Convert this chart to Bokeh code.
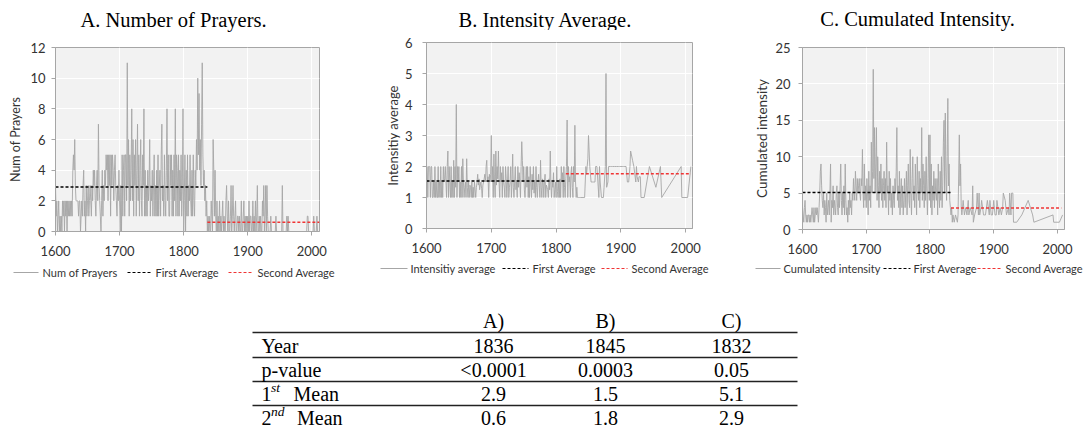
from bokeh.plotting import figure
from bokeh.layouts import column, row
from bokeh.models import Range1d, FixedTicker
from bokeh.embed import file_html
from bokeh.resources import INLINE
from bokeh.core.properties import value

SANS = "Lato"
SERIF = "Liberation Serif"

# ------------------------------------------------------------------ data
# A. number of prayers per year, 1600..2010
years_all = list(range(1600, 2011))
prayers = [
    3, 1, 2, 0, 1, 2, 0, 1, 0, 1,      # 1600s
    0, 2, 1, 2, 0, 2, 1, 2, 0, 2,      # 1610s
    1, 2, 1, 2, 1, 2, 1, 4, 5, 4,      # 1620s
    6, 3, 2, 2, 2, 2, 1, 2, 2, 0,      # 1630s
    1, 2, 1, 3, 4, 1, 2, 0, 3, 1,      # 1640s
    2, 3, 1, 2, 3, 2, 1, 3, 2, 4,      # 1650s
    3, 4, 2, 1, 3, 4, 2, 7, 3, 2,      # 1660s
    1, 0, 2, 4, 1, 3, 2, 4, 3, 5,      # 1670s
    4, 5, 2, 5, 3, 5, 1, 5, 3, 5,      # 1680s
    4, 2, 4, 5, 3, 2, 1, 3, 2, 4,      # 1690s
    2, 0, 3, 0, 5, 1, 4, 5, 1, 5,      # 1700s
    5, 2, 11, 3, 6, 1, 5, 2, 4, 8,     # 1710s
    2, 6, 1, 5, 3, 6, 1, 4, 7, 2,      # 1720s
    5, 1, 4, 6, 2, 1, 5, 3, 8, 1,      # 1730s
    4, 1, 3, 1, 4, 2, 3, 6, 1, 3,      # 1740s
    2, 4, 1, 3, 5, 1, 3, 1, 4, 1,      # 1750s
    5, 1, 3, 4, 1, 5, 7, 2, 3, 1,      # 1760s
    5, 2, 1, 4, 8, 2, 5, 1, 1, 5,      # 1770s
    3, 5, 1, 4, 1, 5, 2, 8, 1, 5,      # 1780s
    4, 1, 5, 1, 4, 2, 5, 1, 3, 8,      # 1790s
    0, 2, 5, 0, 4, 1, 5, 1, 3, 2,      # 1800s
    5, 2, 1, 4, 1, 5, 2, 1, 4, 3,      # 1810s
    6, 4, 10, 5, 9, 4, 6, 3, 7, 11,    # 1820s
    5, 3, 4, 2, 3, 1, 2, 0, 1, 0,      # 1830s
    1, 0, 0, 2, 1, 0, 6, 4, 1, 4,      # 1840s
    1, 0, 2, 0, 1, 0, 2, 0, 1, 0,      # 1850s
    1, 2, 0, 1, 0, 0, 2, 3, 1, 0,      # 1860s
    2, 0, 0, 1, 3, 0, 1, 3, 1, 0,      # 1870s
    1, 2, 0, 0, 1, 1, 0, 1, 0, 0,      # 1880s
    2, 0, 0, 1, 2, 0, 1, 0, 1, 0,      # 1890s
    1, 0, 2, 0, 1, 1, 0, 0, 2, 0,      # 1900s
    1, 0, 2, 0, 1, 3, 0, 0, 1, 0,      # 1910s
    1, 0, 0, 2, 1, 3, 0, 1, 3, 0,      # 1920s
    3, 1, 0, 0, 0, 0, 1, 0, 0, 0,      # 1930s
    0, 0, 0, 0, 1, 0, 0, 0, 0, 0,      # 1940s
    0, 0, 0, 0, 3, 0, 0, 0, 0, 0,      # 1950s
    0, 1, 0, 1, 0, 0, 0, 0, 0, 0,      # 1960s
    0, 0, 0, 0, 0, 0, 0, 0, 0, 0,      # 1970s
    0, 0, 0, 0, 0, 0, 0, 0, 0, 0,      # 1980s
    0, 0, 0, 1, 1, 0, 0, 0, 0, 0,      # 1990s
    0, 0, 0, 1, 0, 0, 0, 0, 1, 0,      # 2000s
    0,                                 # 2010
]

# B and C: only the years that have prayers
years_early = list(range(1600, 1836))
years_late = [1836, 1838, 1840, 1843, 1844, 1846, 1847, 1848, 1849, 1850,
              1852, 1854, 1856, 1858, 1860, 1861, 1863, 1866, 1867, 1868,
              1870, 1873, 1874, 1876, 1877, 1878, 1880, 1881, 1884, 1885,
              1887, 1890, 1893, 1894, 1896, 1898, 1900, 1902, 1904, 1905,
              1908, 1910, 1912, 1914, 1915, 1918, 1920, 1923, 1924, 1925,
              1927, 1928, 1930, 1931, 1936, 1944, 1954, 1961, 1963, 1993,
              1994, 2003, 2008]
years_bc = years_early + years_late

intensity_avg = [
    2, 2, 1, 2, 2, 2, 1, 2, 2, 1,                          # 1600s
    1, 1.5, 1, 2, 1, 1.5, 1, 1, 2, 1,                      # 1610s
    1.5, 1, 2, 1, 1.5, 1, 2, 1.5, 1.6, 2,                  # 1620s
    1.5, 1, 2, 2.5, 1, 2, 1.5, 1, 2, 1,                    # 1630s
    1.5, 1, 2.2, 1, 2, 1.33, 4, 1, 2, 1.5,                 # 1640s
    2, 1, 1.5, 1, 2, 1, 2.25, 1.5, 1, 1.33,                # 1650s
    1.5, 1, 2.25, 1.33, 1, 1.5, 1, 1.4, 1.33, 1,           # 1660s
    1.5, 1, 1.33, 1, 1.5, 1.25, 1, 1.33, 1.5, 1.75,        # 1670s
    1.4, 1.6, 1.25, 1.4, 1.5, 1.3, 1, 1.4, 1.5, 1.6,       # 1680s
    1.75, 1.5, 2, 2.2, 1.5, 1.67, 1, 1.75, 1.5, 1.75,      # 1690s
    3, 1.5, 2, 1, 2.4, 1.5, 1, 2.5, 1.4, 2,                # 1700s
    1.6, 2.5, 1.5, 1, 2, 1.5, 1.8, 1, 2, 1.5,              # 1710s
    1.33, 1, 2, 1.6, 1, 1.5, 2, 1, 1.33, 1.5,              # 1720s
    2, 1, 1.5, 2.4, 1.33, 1, 1.5, 2, 1.25, 1.5,            # 1730s
    1, 2, 1.33, 1.8, 1.5, 1, 2, 2.8, 2.2, 1.5,             # 1740s
    2, 1.25, 1, 1.5, 2, 1.33, 2, 1, 1.67, 1,               # 1750s
    2, 1.5, 1, 1.75, 1.25, 2, 1.14, 1.5, 1, 2,             # 1760s
    1.33, 1, 1.5, 1.75, 1.38, 1, 2.2, 1.33, 1, 1.6,        # 1770s
    1.5, 1, 1.5, 1.75, 1, 1.4, 1.33, 1.25, 1, 1.6,         # 1780s
    1.25, 2.5, 1.4, 1, 1.5, 1.33, 1.8, 1, 1.25, 1.5,       # 1790s
    1, 2, 1.2, 1, 1.5, 1, 1.6, 1, 2, 1.5,                  # 1800s
    1.8, 1, 2, 1.33, 1, 1.6, 2, 3.5, 1, 2,                 # 1810s
    1.5, 1.67, 1, 1.8, 2, 1.33, 1, 2, 1.5, 3.33,           # 1820s
    1.5, 1, 1.33, 1, 1, 1,                                 # 1830-1835
    # years_late
    1, 1, 1, 1, 1, 2, 1.75, 2, 2.25, 3,
    2, 1.5, 1.5, 1.5, 1.5, 2, 2, 1, 2, 1.5,
    1, 1, 1.33, 2, 5, 1.33, 1.5, 2, 2, 2,
    2, 2, 2, 2, 2, 2, 2, 2, 2, 2,
    2, 1.5, 1.5, 2, 2.5, 2.2, 2, 1.5, 2, 1.67,
    1.5, 1.67, 1.67, 1, 1, 2, 1.33, 2, 1, 2,
    1, 1, 2,
]

cumulated = [
    3, 2, 1, 3, 4, 2, 1, 2, 1, 2,          # 1600s
    2, 1, 2, 1, 2, 3, 2, 1, 3, 1,          # 1610s
    2, 3, 2, 3, 2, 1, 3, 5, 8, 9,          # 1620s
    6, 4, 3, 5, 2, 4, 3, 1, 5, 2,          # 1630s
    3, 4, 2, 5, 9, 1, 4, 3, 6, 2,          # 1640s
    4, 3, 2, 5, 6, 3, 2, 5, 3, 6,          # 1650s
    9, 4, 2, 5, 3, 6, 2, 9, 4, 2,          # 1660s
    3, 1, 4, 2, 5, 3, 4, 2, 5, 4,          # 1670s
    7, 5, 4, 8, 6, 4, 7, 5, 6, 7,          # 1680s
    5, 4, 7, 6, 11, 5, 3, 9, 4, 6,         # 1690s
    3, 7, 5, 2, 8, 4, 6, 3, 12, 5,         # 1700s
    8, 22, 7, 14, 5, 9, 14, 4, 10, 6,      # 1710s
    3, 8, 5, 9, 4, 7, 3, 6, 8, 4,          # 1720s
    7, 3, 12, 5, 6, 2, 8, 4, 7, 3,         # 1730s
    5, 2, 6, 4, 3, 7, 5, 8, 14, 4,         # 1740s
    6, 3, 8, 2, 5, 7, 3, 6, 2, 4,          # 1750s
    7, 3, 5, 8, 2, 6, 9, 4, 3, 11,         # 1760s
    5, 2, 7, 10, 4, 6, 3, 9, 5, 2,         # 1770s
    10, 6, 4, 8, 3, 7, 5, 14, 4, 9,        # 1780s
    6, 3, 8, 4, 10, 5, 2, 7, 13, 4,        # 1790s
    13, 3, 9, 2, 6, 4, 8, 3, 7, 5,         # 1800s
    4, 7, 2, 9, 5, 3, 8, 4, 10, 3,         # 1810s
    6, 12, 15, 5, 16, 8, 4, 10, 18, 6,     # 1820s
    9, 4, 3, 2, 3, 1,                      # 1830-1835
    # years_late
    2, 1, 2, 1, 2, 13, 6, 9, 3, 2,
    4, 2, 3, 2, 4, 2, 3, 2, 6, 1,
    2, 3, 5, 2, 5, 2, 3, 4, 2, 2,
    2, 4, 2, 4, 2, 2, 4, 2, 2, 4,
    2, 3, 2, 3, 5, 4, 2, 3, 2, 5,
    2, 5, 5, 1, 1, 2, 4, 2, 1, 2,
    1, 1, 2,
]

# break-point means drawn on the charts: [start, break, end] and [first, second]
A_span, A_means = [1600, 1837, 2012], [2.9, 0.6]
B_span, B_means = [1600, 1815, 2008], [1.53, 1.77]
C_span, C_means = [1600, 1833, 2006], [5.07, 2.96]

x_ticks = [1600, 1700, 1800, 1900, 2000]

titles = ["A. Number of Prayers.", "B. Intensity Average.", "C. Cumulated Intensity."]
series_names = ["Num of Prayers", "Intensitiy average", "Cumulated intensity"]
avg_names = ["First Average", "Second Average"]

# table
table_cols = ["A)", "B)", "C)"]
table_year = ["1836", "1845", "1832"]
table_p = ["<0.0001", "0.0003", "0.05"]
table_mean1 = ["2.9", "1.5", "5.1"]
table_mean2 = ["0.6", "1.8", "2.9"]

# ------------------------------------------------------------------ style
GRAY = "#A6A6A6"
AX = "#A6A6A6"
TXT = "#333333"
RED = "#F03434"
DASH = "3 2"
PAGE_W = 1085
PANEL_H = 290          # title + chart + legend, per column
TABLE_H = 142


def blank(width, height):
    f = figure(width=width, height=height, x_range=Range1d(0, width),
               y_range=Range1d(height, 0), output_backend="svg",
               toolbar_location=None, min_border=0, title=None,
               x_axis_location=None, y_axis_location=None)
    f.grid.visible = False
    f.outline_line_color = None
    f.background_fill_color = "white"
    f.border_fill_color = "white"
    return f


def chart(c):
    p = figure(width=c["w"], height=c["ch"], title=None,
               x_range=Range1d(1600, c["xend"]), y_range=Range1d(0, c["ymax"]),
               output_backend="svg", toolbar_location=None,
               min_border_left=c["bl"], min_border_right=c["br"],
               min_border_top=12, min_border_bottom=31)
    p.background_fill_color = "#F2F2F2"
    p.border_fill_color = "white"
    p.outline_line_color = AX
    p.xaxis.ticker = FixedTicker(ticks=x_ticks)
    p.yaxis.ticker = FixedTicker(ticks=c["yticks"])
    p.xgrid.ticker = FixedTicker(ticks=x_ticks)
    p.ygrid.ticker = FixedTicker(ticks=c["yticks"])
    for g in (p.xgrid[0], p.ygrid[0]):
        g.grid_line_color = "white"
        g.grid_line_width = 1
    for ax in (p.xaxis[0], p.yaxis[0]):
        ax.axis_line_color = AX
        ax.major_tick_line_color = AX
        ax.minor_tick_line_color = None
        ax.major_tick_in = 0
        ax.major_tick_out = 4
        ax.major_label_text_font = SANS
        ax.major_label_text_font_size = "13px"
        ax.major_label_text_color = TXT
    p.xaxis.major_label_standoff = 10
    p.yaxis.major_label_standoff = c["ystand"]
    p.yaxis.axis_label = c["ylabel"]
    p.yaxis.axis_label_text_font = SANS
    p.yaxis.axis_label_text_font_size = c["lfs"]
    p.yaxis.axis_label_text_font_style = "normal"
    p.yaxis.axis_label_text_color = TXT
    p.yaxis.axis_label_standoff = c["lstand"]

    p.line(c["x"], c["y"], line_color=GRAY, line_width=0.9)
    s, m = c["span"], c["means"]
    p.line([s[0], s[1]], [m[0], m[0]], line_color="black",
           line_dash=DASH, line_width=1.5)
    p.line([s[1], s[2]], [m[1], m[1]], line_color=RED,
           line_dash=DASH, line_width=1.5)
    return p


def panel(c, i):
    w = c["w"]
    th = c["th"]
    tfig = blank(w, th)
    tfig.text(x=[c["tx"]], y=[c["ty"]], text=[titles[i]],
              text_font=value(SERIF), text_font_size="20.5px",
              text_align="center", text_baseline="middle", text_color="black")
    p = chart(c)
    lh = PANEL_H - th - c["ch"]
    lfig = blank(w, lh)
    y = c["ly"]
    (a0, a1), (b0, b1), (c0, c1) = c["samples"]
    lfig.segment(x0=[a0], x1=[a1], y0=[y], y1=[y], line_color=GRAY, line_width=1.2)
    lfig.segment(x0=[b0], x1=[b1], y0=[y], y1=[y], line_color="black",
                 line_width=1.2, line_dash=DASH)
    lfig.segment(x0=[c0], x1=[c1], y0=[y], y1=[y], line_color=RED,
                 line_width=1.2, line_dash=DASH)
    lfig.text(x=c["labels"], y=[y] * 3,
              text=[series_names[i], avg_names[0], avg_names[1]],
              text_font=value(SANS), text_font_size="11px", text_align="left",
              text_baseline="middle", text_color=TXT)
    # wrap the title and legend strips so that Bokeh does not align their
    # frames with the chart frame
    return column(row(tfig), p, row(lfig))


# frame tops: A 47, B 42, C 47 ; frame bottoms: A 231, B 228, C 229
colA = panel(dict(w=370, th=35, ch=12 + 184 + 31, bl=55, br=51, xend=2012, ymax=12,
                  yticks=[0, 2, 4, 6, 8, 10, 12], ystand=6, lstand=4, lfs="12.5px",
                  ylabel=series_names[0], x=years_all, y=prayers,
                  span=A_span, means=A_means, tx=173, ty=19,
                  ly=10, samples=[(13, 38), (127, 152), (228, 253)],
                  labels=[42, 155, 257]), 0)
colB = panel(dict(w=370, th=30, ch=12 + 186 + 31, bl=56, br=48, xend=2010.5, ymax=6,
                  yticks=[0, 1, 2, 3, 4, 5, 6], ystand=10, lstand=1, lfs="13px",
                  ylabel=series_names[1], x=years_bc, y=intensity_avg,
                  span=B_span, means=B_means, tx=175, ty=19,
                  ly=9, samples=[(10, 37), (132, 158), (231, 257)],
                  labels=[40, 162, 261]), 1)
colC = panel(dict(w=345, th=35, ch=12 + 182 + 31, bl=62, br=21, xend=2011, ymax=25,
                  yticks=[0, 5, 10, 15, 20, 25], ystand=8, lstand=2, lfs="13.5px",
                  ylabel=series_names[2], x=years_bc, y=cumulated,
                  span=C_span, means=C_means, tx=177, ty=18,
                  ly=8, samples=[(15, 40), (143, 170), (237, 262)],
                  labels=[43, 173, 265]), 2)

# ------------------------------------------------------------------ table
t = blank(PAGE_W, TABLE_H)
col_x = [493, 605, 731]
header_y = 30
row_y = [55, 79, 103, 127]
rule_y = [42, 67, 91, 115]
x_left, x_right = 252, 797
label_x = 261
FS = "20px"

t.segment(x0=[x_left] * 4, x1=[x_right] * 4, y0=rule_y, y1=rule_y,
          line_color="#222222", line_width=1.3)
t.text(x=col_x, y=[header_y] * 3, text=table_cols, text_font=value(SERIF),
       text_font_size=FS, text_align="center", text_baseline="middle",
       text_color="black")
for vals, yy in zip([table_year, table_p, table_mean1, table_mean2], row_y):
    t.text(x=col_x, y=[yy] * 3, text=vals, text_font=value(SERIF),
           text_font_size=FS, text_align="center", text_baseline="middle",
           text_color="black")
t.text(x=[label_x] * 4, y=row_y, text=["Year", "p-value", "1", "2"],
       text_font=value(SERIF), text_font_size=FS, text_align="left",
       text_baseline="middle", text_color="black")
t.text(x=[label_x + 9.5, label_x + 9.5], y=[row_y[2] - 6, row_y[3] - 6],
       text=["st", "nd"], text_font=value(SERIF), text_font_size="13.5px",
       text_font_style="italic", text_align="left", text_baseline="middle",
       text_color="black")
t.text(x=[label_x + 32, label_x + 35.5], y=[row_y[2], row_y[3]],
       text=["Mean", "Mean"], text_font=value(SERIF), text_font_size=FS,
       text_align="left", text_baseline="middle", text_color="black")

layout = column(row(colA, colB, colC), t)
open("out.html", "w").write(file_html(layout, INLINE))
